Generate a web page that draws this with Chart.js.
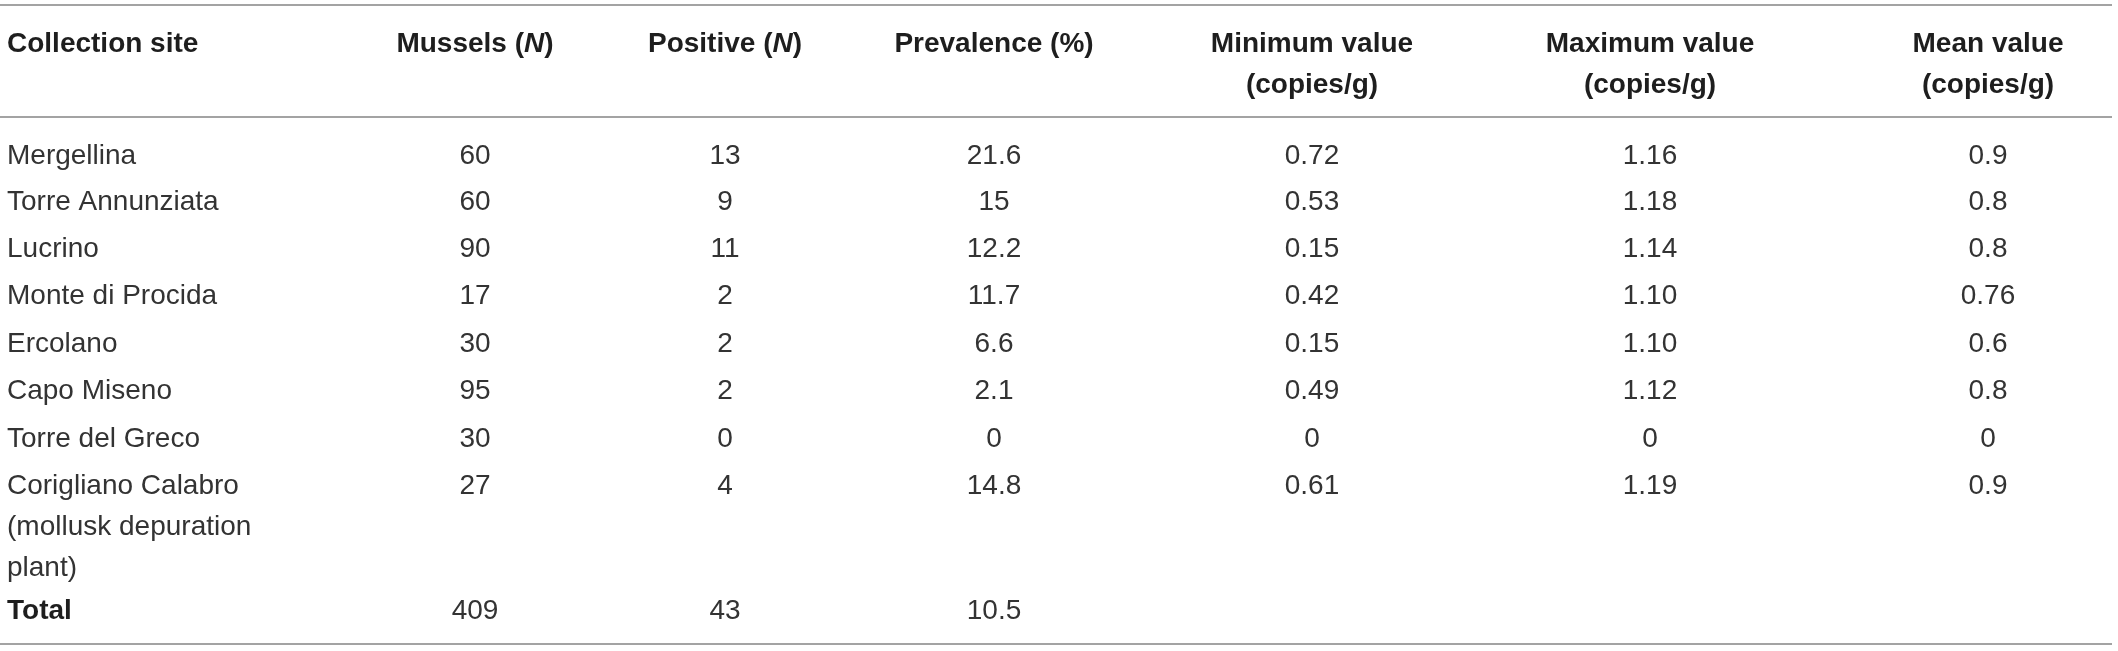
<!DOCTYPE html>
<html>
<head>
<meta charset="utf-8">
<script src="https://cdn.jsdelivr.net/npm/chart.js@4.4.1/dist/chart.umd.min.js"></script>
<style>
html,body{margin:0;padding:0;background:#fff;overflow:hidden;}
#wrap{width:2118px;height:651px;}
</style>
</head>
<body>
<div id="wrap"><canvas id="c" width="2118" height="651"></canvas></div>
<script>
// ---- Data ----
const headers = [
  ['Collection site'],
  ['Mussels (', {i:'N'}, ')'],
  ['Positive (', {i:'N'}, ')'],
  ['Prevalence (%)'],
  ['Minimum value', '\n', '(copies/g)'],
  ['Maximum value', '\n', '(copies/g)'],
  ['Mean value', '\n', '(copies/g)']
];
const sites = ['Mergellina','Torre Annunziata','Lucrino','Monte di Procida','Ercolano','Capo Miseno','Torre del Greco','Corigliano Calabro\n(mollusk depuration\nplant)'];
const mussels    = [60, 60, 90, 17, 30, 95, 30, 27];
const positive   = [13, 9, 11, 2, 2, 2, 0, 4];
const prevalence = [21.6, 15, 12.2, 11.7, 6.6, 2.1, 0, 14.8];
const minValue   = [0.72, 0.53, 0.15, 0.42, 0.15, 0.49, 0, 0.61];
const maxValue   = [1.16, 1.18, 1.14, 1.10, 1.10, 1.12, 0, 1.19];
const meanValue  = [0.9, 0.8, 0.8, 0.76, 0.6, 0.8, 0, 0.9];
const totalLabel = 'Total';
const totals     = [409, 43, 10.5];

// ---- Layout (positions / styles) ----
const layout = {
  width: 2118, height: 651,
  colX: [7, 475, 725, 994, 1312, 1650, 1988],
  headerY: [42, 83],
  rowY: [154, 200, 247, 294, 342, 389, 437, 484],
  totalY: 609,
  wrapStep: 41,
  rules: [5, 117, 644],
  ruleX: [0, 2112],
  bodyFont: '28px "Liberation Sans", Arial, sans-serif',
  headFont: 'bold 28px "Liberation Sans", Arial, sans-serif',
  headItalic: 'italic bold 28px "Liberation Sans", Arial, sans-serif',
  capHalf: 10,
  bodyColor: '#333333',
  headColor: '#1e1e1e',
  ruleColor: '#a3a3a3'
};

const fmt2 = v => v === 0 ? '0' : v.toFixed(2);
const fmt = v => String(v);
const columns = [
  sites.map(String),
  mussels.map(fmt),
  positive.map(fmt),
  prevalence.map(fmt),
  minValue.map(fmt2),
  maxValue.map(fmt2),
  meanValue.map(fmt)
];
const totalRow = [totalLabel, ...totals.map(fmt), '', '', ''];

// datasets: one per column, one point per cell (body rows + total row)
const datasets = columns.map((col, c) => ({
  label: 'col' + c,
  data: [...col.map((_, r) => ({x: layout.colX[c], y: layout.rowY[r]})), {x: layout.colX[c], y: layout.totalY}],
  cellText: [...col, totalRow[c]],
  pointRadius: 0, pointHoverRadius: 0, showLine: false
}));
// header dataset (points at header line positions)
datasets.push({
  label: 'header',
  data: headers.map((h, c) => ({x: layout.colX[c], y: layout.headerY[0]})),
  pointRadius: 0, pointHoverRadius: 0, showLine: false
});

const tablePlugin = {
  id: 'tableText',
  afterDatasetsDraw(chart) {
    const ctx = chart.ctx;
    const xs = chart.scales.x, ys = chart.scales.y;
    ctx.save();
    // rules
    ctx.strokeStyle = layout.ruleColor;
    ctx.lineWidth = 2;
    layout.rules.forEach(r => {
      const py = ys.getPixelForValue(r);
      ctx.beginPath();
      ctx.moveTo(xs.getPixelForValue(layout.ruleX[0]), py);
      ctx.lineTo(xs.getPixelForValue(layout.ruleX[1]), py);
      ctx.stroke();
    });
    ctx.textBaseline = 'alphabetic';
    // header
    const hMeta = chart.getDatasetMeta(datasets.length - 1);
    headers.forEach((h, c) => {
      const pt = hMeta.data[c];
      // split into lines
      const lines = [[]];
      h.forEach(seg => { if (seg === '\n') lines.push([]); else lines[lines.length - 1].push(seg); });
      lines.forEach((segs, li) => {
        const py = li === 0 ? pt.y : ys.getPixelForValue(layout.headerY[li]);
        let w = 0;
        segs.forEach(s => {
          ctx.font = typeof s === 'string' ? layout.headFont : layout.headItalic;
          w += ctx.measureText(typeof s === 'string' ? s : s.i).width;
        });
        let x = c === 0 ? pt.x : pt.x - w / 2;
        ctx.fillStyle = layout.headColor;
        ctx.textAlign = 'left';
        segs.forEach(s => {
          const t = typeof s === 'string' ? s : s.i;
          ctx.font = typeof s === 'string' ? layout.headFont : layout.headItalic;
          ctx.fillText(t, x, py + layout.capHalf);
          x += ctx.measureText(t).width;
        });
      });
    });
    // body cells
    for (let c = 0; c < columns.length; c++) {
      const meta = chart.getDatasetMeta(c);
      const texts = datasets[c].cellText;
      meta.data.forEach((pt, r) => {
        const isTotal = r === texts.length - 1;
        const t = texts[r];
        if (!t) return;
        ctx.font = (isTotal && c === 0) ? layout.headFont : layout.bodyFont;
        ctx.fillStyle = (isTotal && c === 0) ? layout.headColor : layout.bodyColor;
        ctx.textAlign = c === 0 ? 'left' : 'center';
        t.split('\n').forEach((line, li) => {
          ctx.fillText(line, pt.x, pt.y + li * layout.wrapStep + layout.capHalf);
        });
      });
    }
    ctx.restore();
  }
};

new Chart(document.getElementById('c'), {
  type: 'scatter',
  data: { datasets },
  options: {
    responsive: false,
    animation: false,
    devicePixelRatio: 1,
    layout: { padding: 0 },
    plugins: { legend: { display: false }, tooltip: { enabled: false } },
    events: [],
    scales: {
      x: { type: 'linear', display: false, min: 0, max: layout.width },
      y: { type: 'linear', display: false, min: 0, max: layout.height, reverse: true }
    }
  },
  plugins: [tablePlugin]
});
</script>
</body>
</html>
